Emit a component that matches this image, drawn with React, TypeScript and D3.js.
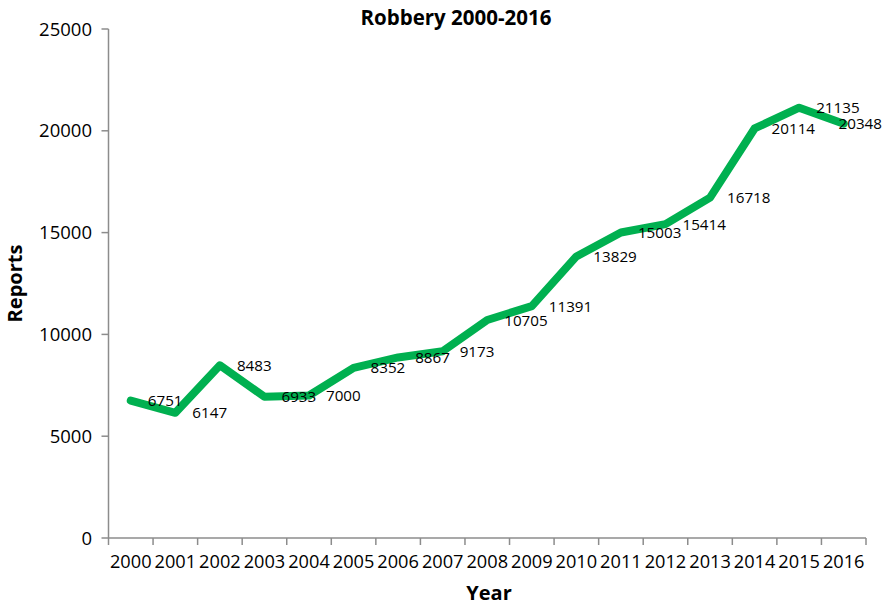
import React from "react";
import * as d3 from "d3";

const years = ["2000","2001","2002","2003","2004","2005","2006","2007","2008","2009","2010","2011","2012","2013","2014","2015","2016"];
const reports = [6751, 6147, 8483, 6933, 7000, 8352, 8867, 9173, 10705, 11391, 13829, 15003, 15414, 16718, 20114, 21135, 20348];
const yTicks = [0, 5000, 10000, 15000, 20000, 25000];
const title = "Robbery 2000-2016";
const xTitle = "Year";
const yTitle = "Reports";

const W = 889, H = 605;
const left = 108.5, right = 866, top = 29, bottom = 538;
const font = "'Open Sans', sans-serif";
const axisColor = "#8c8c8c";
const labelSize = 15.2;

export default function App() {
  const x = d3.scaleBand<string>().domain(years).range([left, right]);
  const y = d3.scaleLinear().domain([0, 25000]).range([bottom, top]);
  const data = years.map((yr, i) => ({ yr, v: reports[i] }));
  const cx = (yr: string) => (x(yr) as number) + x.bandwidth() / 2;
  const line = d3.line<{ yr: string; v: number }>()
    .x(d => cx(d.yr))
    .y(d => y(d.v));
  const xTickPos = years.map(yr => x(yr) as number).concat([right]);

  return (
    <svg width={W} height={H} style={{ position: "absolute", left: 0, top: 0, background: "#fff" }} fontFamily={font}>
      <text x={456} y={25} textAnchor="middle" fontWeight="bold" fontSize={20.5} fill="#000">{title}</text>
      {/* Y axis */}
      <line x1={left} x2={left} y1={top} y2={bottom} stroke={axisColor} strokeWidth={1.5} />
      {yTicks.map(t => (
        <g key={t}>
          <line x1={left - 7} x2={left} y1={y(t)} y2={y(t)} stroke={axisColor} strokeWidth={1.5} />
          <text x={92} y={y(t)} dy="0.36em" textAnchor="end" fontSize={18.5} fill="#000">{t}</text>
        </g>
      ))}
      {/* X axis */}
      <line x1={left} x2={right} y1={bottom} y2={bottom} stroke={axisColor} strokeWidth={1.5} />
      {xTickPos.map((p, i) => (
        <line key={i} x1={p} x2={p} y1={bottom} y2={bottom + 7} stroke={axisColor} strokeWidth={1.5} />
      ))}
      {years.map(yr => (
        <text key={yr} x={cx(yr)} y={568} textAnchor="middle" fontSize={18.2} fill="#000">{yr}</text>
      ))}
      <text x={489} y={600} textAnchor="middle" fontWeight="bold" fontSize={20} fill="#000">{xTitle}</text>
      <text transform={`translate(22,${(top + bottom) / 2}) rotate(-90)`} textAnchor="middle" fontWeight="bold" fontSize={20} fill="#000">{yTitle}</text>
      {/* Line */}
      <path d={line(data) || ""} fill="none" stroke="#00b050" strokeWidth={8} strokeLinejoin="round" strokeLinecap="round" />
      {data.map(d => {
        const est = String(d.v).length * labelSize * 0.572;
        const lx = Math.min(cx(d.yr) + 17, W - 7 - est);
        return (
          <text key={d.yr} x={lx} y={y(d.v)} dy="0.36em" fontSize={labelSize} fill="#000">{d.v}</text>
        );
      })}
    </svg>
  );
}
